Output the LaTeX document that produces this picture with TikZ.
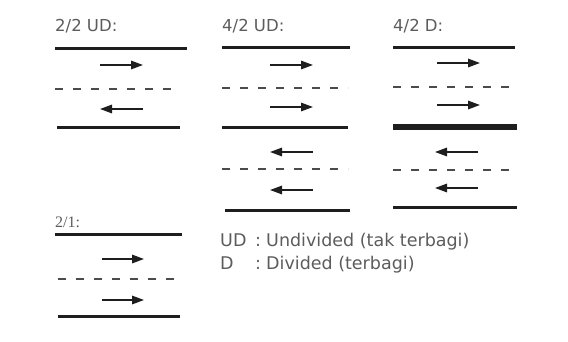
\documentclass[tikz,border=0pt]{standalone}
\usepackage{fontspec}
\setmainfont{DejaVu Sans}
\newfontfamily\serfont{Liberation Serif}
\usetikzlibrary{arrows.meta}
\definecolor{ink}{HTML}{1E1E1E}
\definecolor{txt}{HTML}{5C5C5C}
\tikzset{
  road/.style={draw=ink, line width=3pt},
  median/.style={draw=ink, line width=5.5pt},
  lane/.style={draw=ink!80, line width=2pt, dash pattern=on 8pt off 10pt},
  flow/.style={draw=ink, line width=1.5pt, -{Triangle[length=12pt,width=8.5pt]}},
  lbl/.style={text=txt, font=\fontsize{16.5}{18}\selectfont, anchor=base west, inner sep=0pt},
  leg/.style={text=txt, font=\fontsize{17.5}{20}\selectfont, anchor=base west, inner sep=0pt}
}
\begin{document}
\begin{tikzpicture}[x=1pt,y=-1pt]
\useasboundingbox (0,0) rectangle (568,341);
% panel 1: 2/2 UD
\node[lbl] (t1) at (55,31) {2/2 UD:};
\draw[road] (55,48) -- (187,48);
\draw[flow] (100,65) -- (143,65);
\draw[lane] (55,89) -- (180,89);
\draw[flow] (143,109) -- (100,109);
\draw[road] (57,127) -- (180,127);
% panel 2: 4/2 UD
\node[lbl] (t2) at (222,31) {4/2 UD:};
\draw[road] (222,47) -- (350,47);
\draw[flow] (270,65) -- (313,65);
\draw[lane] (222,88) -- (348,88);
\draw[flow] (270,107) -- (313,107);
\draw[road] (222,127) -- (348,127);
\draw[flow] (313,152) -- (270,152);
\draw[lane] (222,169) -- (348,169);
\draw[flow] (313,190) -- (270,190);
\draw[road] (225,210) -- (350,210);
% panel 3: 4/2 D
\node[lbl] (t3) at (393,31) {4/2 D:};
\draw[road] (393,47) -- (515,47);
\draw[flow] (437,63) -- (480,63);
\draw[lane] (393,87) -- (517,87);
\draw[flow] (437,105) -- (480,105);
\draw[median] (393,127) -- (517,127);
\draw[flow] (478,152) -- (435,152);
\draw[lane] (393,170) -- (517,170);
\draw[flow] (478,188) -- (435,188);
\draw[road] (393,207) -- (517,207);
% panel 4: 2/1
\node[lbl, font=\serfont\fontsize{16}{18}\selectfont] (t4) at (55,227) {2/1:};
\draw[road] (55,234) -- (182,234);
\draw[flow] (102,259) -- (144,259);
\draw[lane] (58,279) -- (180,279);
\draw[flow] (102,300) -- (144,300);
\draw[road] (58,316) -- (180,316);
% legend
\node[leg] (u1) at (220,246) {UD};
\node[leg] (c1) at (255,246) {:};
\node[leg] (d1) at (266,246) {Undivided (tak terbagi)};
\node[leg] (u2) at (220,269) {D};
\node[leg] (c2) at (255,269) {:};
\node[leg] (d2) at (266,269) {Divided (terbagi)};
\end{tikzpicture}
\end{document}
